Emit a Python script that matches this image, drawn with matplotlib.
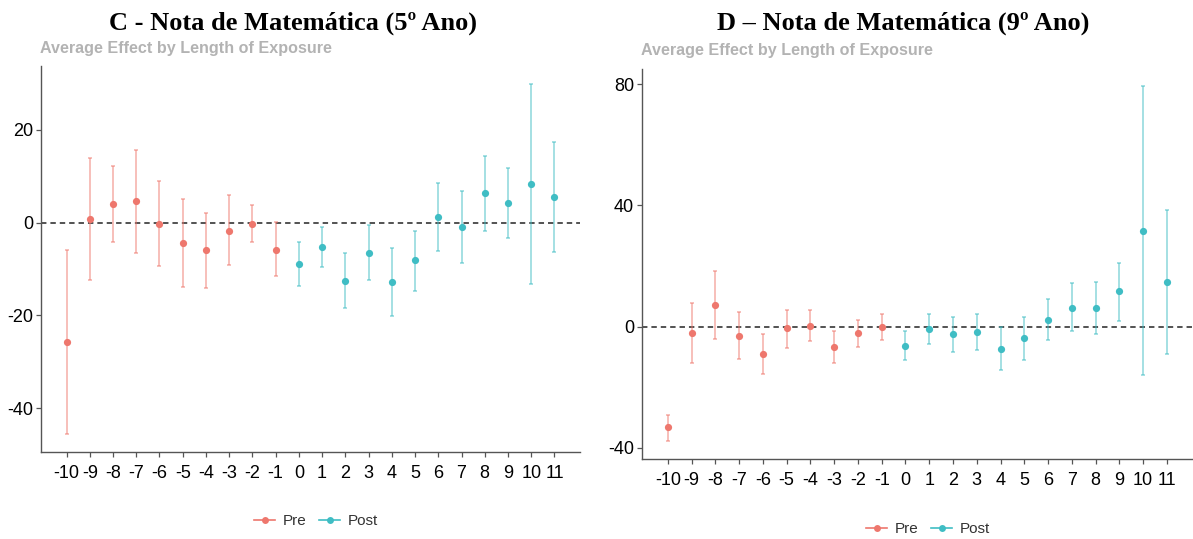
import matplotlib.pyplot as plt
from matplotlib.lines import Line2D
import numpy as np

# event-time periods (shared by both panels)
periods = list(range(-10, 12))

# panel C - 5th grade math scores
est_c = [-25.8, 0.8, 4.0, 4.6, -0.3, -4.3, -5.9, -1.7, -0.3, -5.8,
         -8.9, -5.3, -12.6, -6.5, -12.8, -8.1, 1.2, -0.9, 6.3, 4.2, 8.3, 5.5]
lo_c = [-45.6, -12.4, -4.1, -6.5, -9.4, -13.8, -14.1, -9.1, -4.1, -11.4,
        -13.7, -9.6, -18.3, -12.4, -20.1, -14.8, -6.1, -8.6, -1.9, -3.3, -13.2, -6.3]
hi_c = [-5.9, 14.0, 12.2, 15.7, 9.1, 5.1, 2.0, 5.9, 3.9, 0.2,
        -4.1, -1.0, -6.6, -0.6, -5.5, -1.7, 8.5, 6.9, 14.3, 11.9, 29.9, 17.5]

# panel D - 9th grade math scores
est_d = [-33.3, -2.2, 7.2, -3.1, -9.2, -0.6, 0.3, -6.9, -2.2, 0.0,
         -6.3, -0.9, -2.5, -1.9, -7.3, -3.8, 2.2, 6.2, 6.2, 11.6, 31.6, 14.7]
lo_d = [-37.6, -12.0, -4.1, -10.7, -15.7, -7.0, -4.8, -12.0, -6.7, -4.4,
        -11.0, -5.7, -8.3, -7.8, -14.3, -11.0, -4.4, -1.4, -2.3, 2.0, -16.1, -9.2]
hi_d = [-29.2, 7.8, 18.3, 4.8, -2.4, 5.4, 5.4, -1.5, 2.2, 4.2,
        -1.5, 4.1, 3.2, 4.1, -0.2, 3.2, 9.2, 14.3, 14.8, 21.1, 79.3, 38.6]

pre_col = '#EE776D'
post_col = '#3FBDC4'

W, H = 1193, 539
plt.rcParams['font.family'] = ['Liberation Sans Narrow', 'Liberation Sans', 'DejaVu Sans']
plt.rcParams['axes.unicode_minus'] = False
fig = plt.figure(figsize=(W / 100, H / 100), dpi=100)


def px_rect(x0, y0, x1, y1):
    return [x0 / W, 1 - y1 / H, (x1 - x0) / W, (y1 - y0) / H]


def draw_panel(ax, est, lo, hi, ylim, yticks):
    x = np.array(periods)
    est = np.array(est)
    lo = np.array(lo)
    hi = np.array(hi)
    ax.axhline(0, color='#444444', lw=1.3, ls=(0, (3, 2.2)), zorder=1)
    for mask, col in [(x < 0, pre_col), (x >= 0, post_col)]:
        ax.errorbar(x[mask], est[mask], yerr=[est[mask] - lo[mask], hi[mask] - est[mask]],
                    fmt='none', ecolor=col, alpha=0.6, elinewidth=1.1, capsize=1.6,
                    capthick=1.1, zorder=2)
        ax.plot(x[mask], est[mask], 'o', color=col, ms=5.2, mec='none', zorder=3)
    ax.set_xlim(-11.1, 12.1)
    ax.set_ylim(*ylim)
    ax.set_xticks(periods)
    ax.set_yticks(yticks)
    for side in ['top', 'right']:
        ax.spines[side].set_visible(False)
    for side in ['left', 'bottom']:
        ax.spines[side].set_color('#555555')
        ax.spines[side].set_linewidth(1.0)
    ax.tick_params(axis='both', colors='#555555', labelcolor='black', labelsize=13,
                   length=3.5, width=0.9, pad=2)
    ax.tick_params(axis='x', pad=6)


axC = fig.add_axes(px_rect(41, 66, 580, 451.7))
draw_panel(axC, est_c, lo_c, hi_c, (-49.4, 33.8), [-40, -20, 0, 20])

axD = fig.add_axes(px_rect(641.7, 69.3, 1193, 459))
draw_panel(axD, est_d, lo_d, hi_d, (-43.7, 84.9), [-40, 0, 40, 80])

# panel titles
fig.text(293 / W, 1 - 23 / H, 'C - Nota de Matemática (5º Ano)', ha='center', va='center',
         family='Liberation Serif', weight='bold', fontsize=19)
fig.text(903 / W, 1 - 23 / H, 'D – Nota de Matemática (9º Ano)', ha='center', va='center',
         family='Liberation Serif', weight='bold', fontsize=19)

fig.text(40 / W, 1 - 48 / H, 'Average Effect by Length of Exposure', ha='left', va='center',
         family='Liberation Sans', weight='bold', fontsize=11.6, color='#B3B3B3')
fig.text(641 / W, 1 - 50 / H, 'Average Effect by Length of Exposure', ha='left', va='center',
         family='Liberation Sans', weight='bold', fontsize=11.6, color='#B3B3B3')

handles = [Line2D([], [], color=pre_col, marker='o', ms=5, mec='none', lw=1.2),
           Line2D([], [], color=post_col, marker='o', ms=5, mec='none', lw=1.2)]
for cx, cy in [(316, 521), (928, 529)]:
    fig.legend(handles, ['Pre', 'Post'], loc='center', bbox_to_anchor=(cx / W, 1 - cy / H),
               ncol=2, frameon=False, fontsize=11, handlelength=1.4, handletextpad=0.5,
               columnspacing=0.8, labelcolor='#333333')

fig.savefig('out.png', dpi=100)
